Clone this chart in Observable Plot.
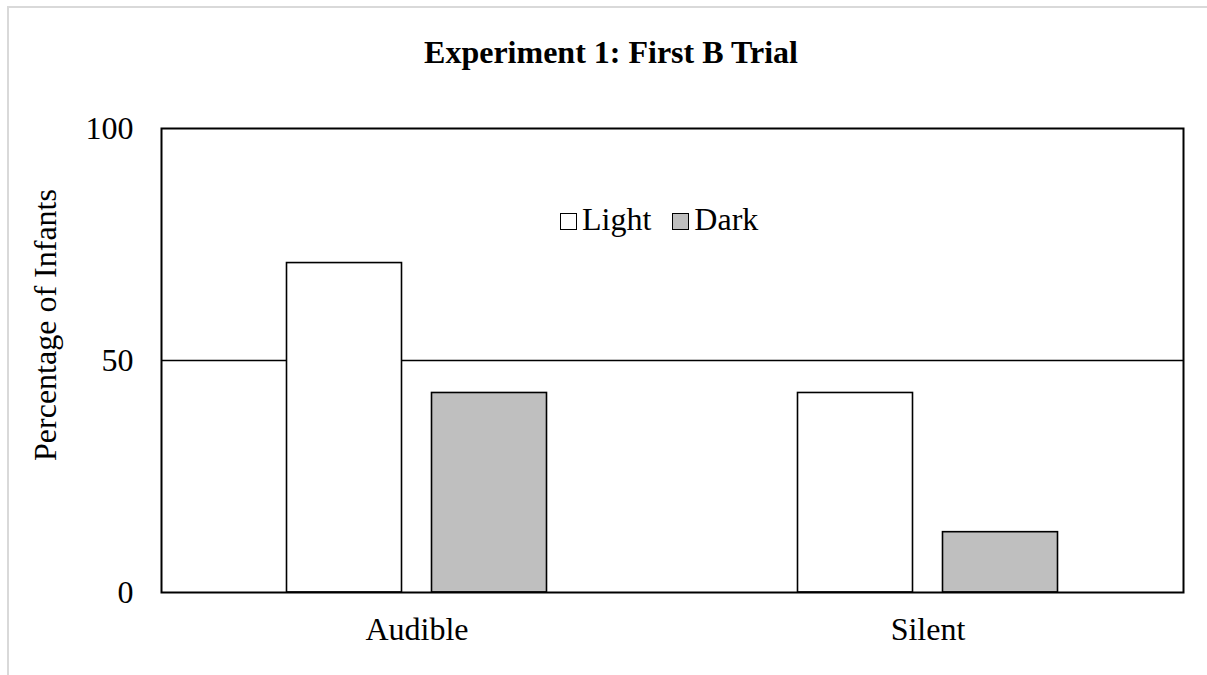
<!DOCTYPE html>
<html>
<head>
<meta charset="utf-8">
<script src="https://cdn.jsdelivr.net/npm/d3@7"></script>
<script src="https://cdn.jsdelivr.net/npm/@observablehq/plot@0.6"></script>
<style>
  html, body { margin: 0; padding: 0; background: #fff; overflow: hidden; }
  #wrap { position: relative; width: 1207px; height: 675px; overflow: hidden; font-family: "Liberation Serif", "Times New Roman", serif; color: #000; }
  #btop { position: absolute; left: 7px; top: 6px; width: 1200px; height: 2px; background: #d9d9d9; }
  #bleft { position: absolute; left: 7px; top: 6px; width: 2px; height: 669px; background: #d9d9d9; }
  #chart { position: absolute; left: 0; top: 0; }
  #title { position: absolute; left: 611px; top: 36px; transform: translateX(-50%); font-weight: bold; font-size: 32px; line-height: 32px; white-space: nowrap; }
  #ylabel { position: absolute; left: -155.5px; top: 309px; width: 400px; height: 32px; line-height: 32px; font-size: 32px; text-align: center; transform: rotate(-90deg); white-space: nowrap; }
  #legend { position: absolute; left: 560px; top: 203px; display: flex; align-items: baseline; font-size: 32px; line-height: 32px; white-space: nowrap; }
  .item { display: flex; align-items: baseline; margin-right: 21px; }
  .sw { display: inline-block; width: 15px; height: 15px; border: 1.5px solid #000; margin-right: 5px; }
</style>
</head>
<body>
<div id="wrap">
  <div id="btop"></div>
  <div id="bleft"></div>
  <div id="chart"></div>
  <div id="title"></div>
  <div id="ylabel"></div>
  <div id="legend"></div>
</div>
<script>
const title = "Experiment 1: First B Trial";
const yLabel = "Percentage of Infants";
const groups = ["Audible", "Silent"];
const series = ["Light", "Dark"];
const lightValues = [71, 43];
const darkValues = [43, 13];
const seriesColors = ["#ffffff", "#bfbfbf"];
const yTicks = [0, 50, 100];
const referenceLine = [50];

const W = 1207, H = 675;
const mL = 161, mR = 24, mT = 128, mB = 83;
const bandW = (W - mL - mR) / groups.length;
const barW = 115, gap = 30;
const outer = (bandW - 2 * barW - gap) / 2;

const rows = [];
groups.forEach((g, i) => {
  rows.push({group: g, series: series[0], value: lightValues[i]});
  rows.push({group: g, series: series[1], value: darkValues[i]});
});

const barMarks = series.map((s, si) => Plot.barY(rows.filter(d => d.series === s), {
  x: "group",
  y: "value",
  fill: seriesColors[si],
  stroke: "#000",
  strokeWidth: 1.6,
  insetLeft: outer + si * (barW + gap),
  insetRight: bandW - outer - si * (barW + gap) - barW
}));

const plot = Plot.plot({
  width: W,
  height: H,
  marginLeft: mL,
  marginRight: mR,
  marginTop: mT,
  marginBottom: mB,
  style: {fontFamily: "'Liberation Serif', 'Times New Roman', serif", fontSize: "32px", color: "#000", background: "transparent"},
  x: {domain: groups, padding: 0, label: null, tickSize: 0, tickPadding: 25},
  y: {domain: [0, 100], ticks: yTicks, label: null, tickSize: 0, tickPadding: 28, tickFormat: d3.format("d")},
  marks: [
    Plot.ruleY(referenceLine, {stroke: "#000", strokeWidth: 1.5}),
    ...barMarks,
    Plot.frame({stroke: "#000", strokeWidth: 2})
  ]
});
document.getElementById("chart").appendChild(plot);
document.getElementById("title").textContent = title;
document.getElementById("ylabel").textContent = yLabel;

const legend = document.getElementById("legend");
series.forEach((s, i) => {
  const item = document.createElement("span");
  item.className = "item";
  const sw = document.createElement("span");
  sw.className = "sw";
  sw.style.background = seriesColors[i];
  const t = document.createElement("span");
  t.textContent = s;
  item.appendChild(sw);
  item.appendChild(t);
  legend.appendChild(item);
});
</script>
</body>
</html>
